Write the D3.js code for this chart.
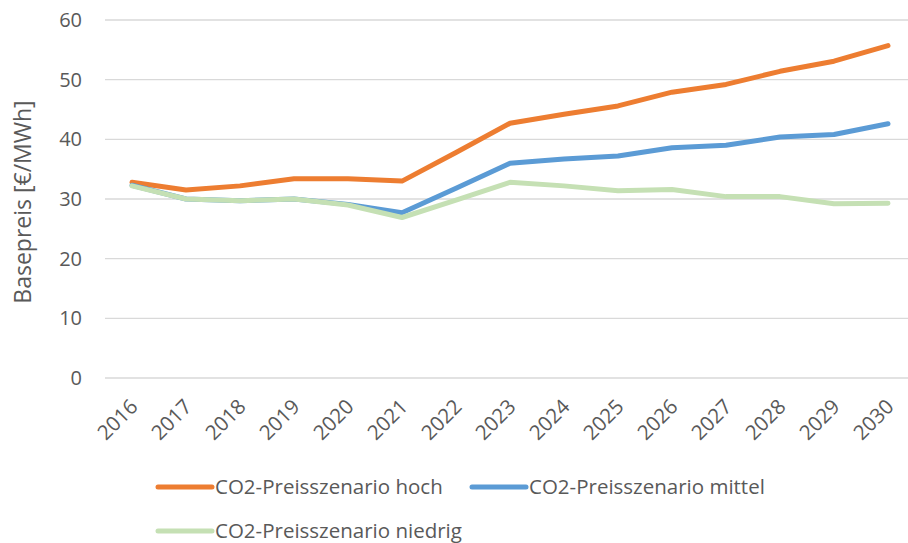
<!DOCTYPE html>
<html>
<head>
<meta charset="utf-8">
<script src="https://cdn.jsdelivr.net/npm/d3@7"></script>
<style>
  body { margin: 0; background: #fff; }
  text { font-family: "Open Sans", sans-serif; fill: #595959; }
</style>
</head>
<body>
<svg></svg>
<script>
//Setting
const width = 908;
const height = 543;

//Data
const years = ["2016","2017","2018","2019","2020","2021","2022","2023","2024","2025","2026","2027","2028","2029","2030"];
const hoch    = [32.8, 31.5, 32.2, 33.4, 33.4, 33.0, 37.8, 42.7, 44.2, 45.6, 47.9, 49.2, 51.4, 53.1, 55.7];
const mittel  = [32.3, 30.0, 29.7, 30.0, 29.1, 27.7, 31.8, 36.0, 36.7, 37.2, 38.6, 39.0, 40.4, 40.8, 42.6];
const niedrig = [32.2, 30.0, 29.7, 30.0, 29.0, 26.9, 29.8, 32.8, 32.2, 31.4, 31.6, 30.4, 30.4, 29.2, 29.3];
const yTicks = [0, 10, 20, 30, 40, 50, 60];

const seriesNames = ["CO2-Preisszenario hoch", "CO2-Preisszenario mittel", "CO2-Preisszenario niedrig"];
const seriesColors = ["#ED7D31", "#5B9BD5", "#C5E0B4"];
const seriesData = [hoch, mittel, niedrig];

const svg = d3.select("svg")
            .attr("width", width)
            .attr("height", height);

const x = d3.scaleBand()
            .domain(years)
            .range([105, 915]);

const y = d3.scaleLinear()
            .domain([0, 60])
            .range([378, 20]);

// gridlines
svg.append("g")
   .selectAll("line")
   .data(yTicks)
   .enter()
   .append("line")
   .attr("x1", 105)
   .attr("x2", width)
   .attr("y1", d => y(d))
   .attr("y2", d => y(d))
   .attr("stroke", "#D9D9D9")
   .attr("stroke-width", 1.3);

// y tick labels
svg.append("g")
   .selectAll("text")
   .data(yTicks)
   .enter()
   .append("text")
   .attr("x", 82)
   .attr("y", d => y(d))
   .attr("dy", "0.35em")
   .attr("text-anchor", "end")
   .style("font-size", "20px")
   .text(d => d);

// y axis title
svg.append("text")
   .attr("transform", "translate(31, 202) rotate(-90)")
   .attr("text-anchor", "middle")
   .style("font-size", "23px")
   .text("Basepreis [€/MWh]");

// x tick labels
svg.append("g")
   .selectAll("text")
   .data(years)
   .enter()
   .append("text")
   .attr("transform", d => `translate(${x(d) + x.bandwidth() / 2 + 2}, 403) rotate(-45)`)
   .attr("dy", "0.35em")
   .attr("text-anchor", "end")
   .style("font-size", "20.5px")
   .text(d => d);

// lines
const line = d3.line()
               .x((d, i) => x(years[i]) + x.bandwidth() / 2)
               .y(d => y(d));

seriesData.forEach((s, k) => {
  svg.append("path")
     .datum(s)
     .attr("d", line)
     .attr("fill", "none")
     .attr("stroke", seriesColors[k])
     .attr("stroke-width", 5)
     .attr("stroke-linejoin", "round")
     .attr("stroke-linecap", "round");
});

// legend
const legendPos = [[158, 487], [472, 487], [158, 531]];

const legend = svg.append("g")
   .selectAll("g")
   .data(seriesNames)
   .enter()
   .append("g")
   .attr("transform", (d, i) => `translate(${legendPos[i][0]}, ${legendPos[i][1]})`);

legend.append("line")
      .attr("x1", 0)
      .attr("x2", 54)
      .attr("stroke", (d, i) => seriesColors[i])
      .attr("stroke-width", 5)
      .attr("stroke-linecap", "round");

legend.append("text")
      .attr("x", 57)
      .attr("dy", "0.35em")
      .style("font-size", "20.5px")
      .text(d => d);
</script>
</body>
</html>
